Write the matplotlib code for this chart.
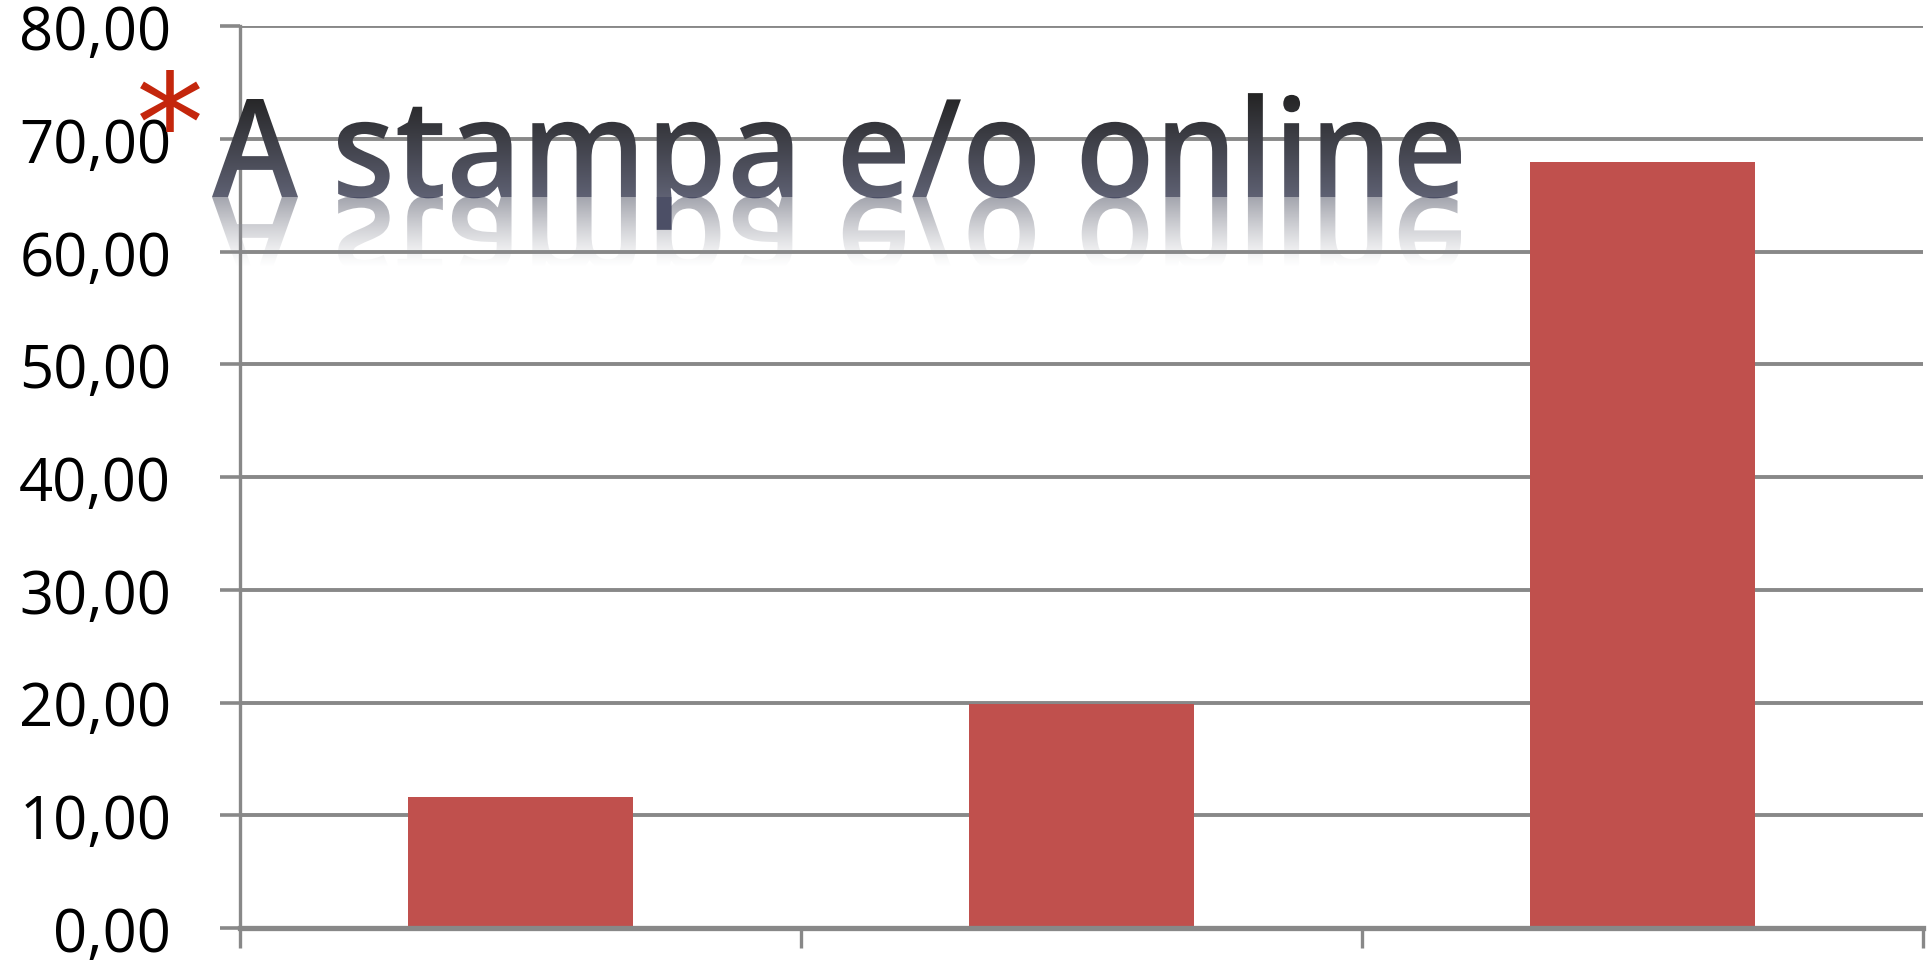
import matplotlib
matplotlib.use("Agg")
import matplotlib.pyplot as plt
import numpy as np
from matplotlib.textpath import TextPath
from matplotlib.font_manager import FontProperties
from matplotlib.patches import PathPatch
from matplotlib.transforms import Affine2D

# Data
categories = ["A", "B", "C"]
values = [11.6, 19.9, 67.9]
y_ticks = [0, 10, 20, 30, 40, 50, 60, 70, 80]
title_text = "A stampa e/o online"

W, H = 1933, 970
fig = plt.figure(figsize=(W / 100, H / 100), dpi=100)
fig.patch.set_facecolor("white")

grid_col = "#888888"
bar_col = "#c0504d"

ax = fig.add_axes([240 / W, (H - 929) / H, (1923 - 240) / W, (929 - 27) / H])
x = np.arange(len(categories))
ax.bar(x, values, width=0.40, color=bar_col, zorder=3)
ax.set_xlim(-0.5, len(categories) - 0.5)
ax.set_ylim(0, 80)

ax.set_yticks(y_ticks)
ax.set_yticklabels([f"{v:.2f}".replace(".", ",") for v in y_ticks],
                   fontsize=43, family="Open Sans")
ax.tick_params(axis="y", length=14.5, width=2.6, color=grid_col, pad=35)
ax.set_xticks(np.arange(-0.5, len(categories)))
ax.set_xticklabels([])
ax.tick_params(axis="x", length=14.5, width=2.4, color=grid_col)
ax.yaxis.grid(True, color=grid_col, linewidth=2.8, zorder=1)
ax.set_axisbelow(True)

for s in ["top", "right"]:
    ax.spines[s].set_visible(False)
ax.spines["left"].set_color(grid_col)
ax.spines["left"].set_linewidth(2.4)
ax.spines["bottom"].set_color(grid_col)
ax.spines["bottom"].set_linewidth(3.8)
ax.spines["bottom"].set_zorder(4)

# overlay in pixel coordinates for the title
ov = fig.add_axes([0, 0, 1, 1], zorder=10)
ov.set_xlim(0, W)
ov.set_ylim(0, H)
ov.axis("off")
ov.patch.set_alpha(0)

fp = FontProperties(family="Open Sans", weight="semibold")
cap = TextPath((0, 0), "A", size=100, prop=fp).get_extents().height
tp = TextPath((0, 0), title_text, size=100, prop=fp)
ext = tp.get_extents()
s = 98 / cap
sx = 1249 / ext.width
x0 = 212 - ext.x0 * sx
base = H - 198
xl, xr = 212 - 5, 1461 + 5

# main title with vertical gradient
tr = Affine2D().scale(sx, s).translate(x0, base) + ov.transData
patch = PathPatch(tp, facecolor="none", edgecolor="none", transform=tr)
ov.add_patch(patch)
top = base + ext.y1 * s
bot = base + ext.y0 * s
c_top = np.array([0.14, 0.14, 0.14])
c_bot = np.array([0.37, 0.38, 0.45])
n = 200
t = np.linspace(0, 1, n)[:, None]
grad = c_top * (1 - t) + c_bot * t
img = np.repeat(grad[:, None, :], 2, axis=1)
im = ov.imshow(img, extent=[xl, xr, base, top],
               aspect="auto", zorder=11, interpolation="bilinear")
im.set_clip_path(patch)
# descender part
dimg = np.repeat(np.tile(np.array([0.30, 0.31, 0.40]), (2, 1))[:, None, :], 2, axis=1)
im2 = ov.imshow(dimg, extent=[xl, xr, bot, base], aspect="auto", zorder=11)
im2.set_clip_path(patch)

# reflection
tr_r = Affine2D().scale(sx, -s).translate(x0, base) + ov.transData
rpatch = PathPatch(tp, facecolor="none", edgecolor="none", transform=tr_r)
ov.add_patch(rpatch)
rh = 70
rgba = np.zeros((n, 2, 4))
tt = np.linspace(0, 1, n)
rgba[:, :, 0] = 0.55
rgba[:, :, 1] = 0.56
rgba[:, :, 2] = 0.60
rgba[:, :, 3] = (0.8 * (1 - tt) ** 1.2)[:, None]
im3 = ov.imshow(rgba, extent=[xl, xr, base - rh, base],
                aspect="auto", zorder=10.5, interpolation="bilinear")
im3.set_clip_path(rpatch)

# red asterisk
ap = TextPath((0, 0), "*", size=100, prop=FontProperties(family="DejaVu Sans"))
ae = ap.get_extents()
sa = 62 / ae.height
cx, cy = 170, H - 102
tr_a = Affine2D().translate(-(ae.x0 + ae.x1) / 2, -(ae.y0 + ae.y1) / 2).scale(sa) \
    .translate(cx, cy) + ov.transData
ov.add_patch(PathPatch(ap, facecolor="#c4260c", edgecolor="none", transform=tr_a, zorder=12))

ov.set_xlim(0, W)
ov.set_ylim(0, H)

fig.savefig("out.png", dpi=100, facecolor="white")
